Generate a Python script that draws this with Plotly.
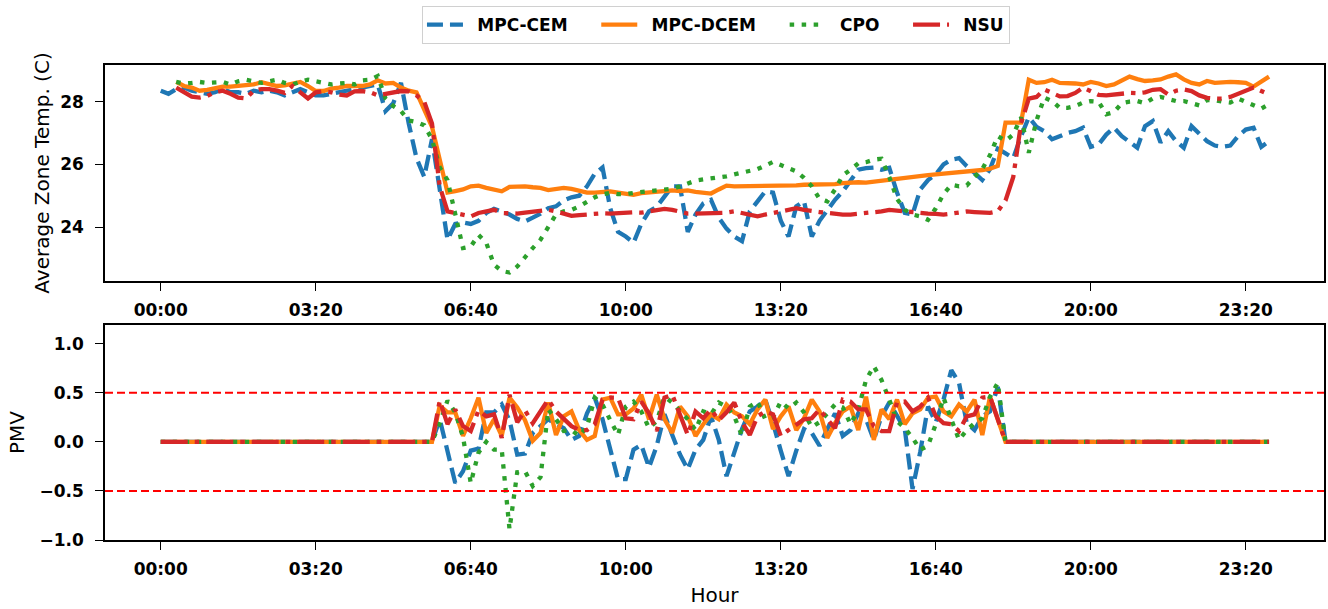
import plotly.graph_objects as go
from plotly.subplots import make_subplots

# time axis: 10-minute steps over one day (minutes after midnight)
minutes = [10 * i for i in range(144)]
tick_vals = [0, 200, 400, 600, 800, 1000, 1200, 1400]
tick_text = ["00:00", "03:20", "06:40", "10:00", "13:20", "16:40", "20:00", "23:20"]

N = None
temp_mpc_cem = [28.35, 28.25, 28.4, 28.45, 28.35, 28.3, 28.25, 28.3, 28.4, 28.3,
                28.3, 28.25, 28.35, 28.3, 28.35, 28.3, 28.2, 28.3, 28.4, 28.3,
                28.2, 28.2, 28.25, 28.3, 28.35, 28.4, 28.45, 28.5, 28.55, 27.7,
                27.95, 28.6, 27.3, 26.2, 25.6, 26.8, 25.1, 23.6, 24.1, 24.15,
                24.1, 24.2, 24.45, 24.58, 24.5, 24.4, 24.26, 24.18, 24.3, 24.43,
                24.6, 24.66, 24.85, 24.95, 25.0, 25.3, 25.7, 25.9, 24.6, 23.85,
                23.7, 23.5, 24.1, 24.5, 24.65, 24.98, 25.3, 25.3, 23.85, 24.4,
                24.75, 24.87, 24.3, 23.95, 23.7, 23.55, 24.5, 24.82, 25.14, 25.1,
                24.2, 23.7, 24.66, 24.82, 23.7, 24.2, 24.55, 24.87, 25.14, 25.5,
                25.83, 25.88, 25.9, 25.83, 25.89, 25.1, 24.45, 24.4, 25.2, 25.5,
                25.68, 26.0, 26.15, 26.2, 25.94, 25.73, 25.5, 25.85, 26.5, 26.35,
                26.2, 26.9, 27.5, 27.2, 27.06, 26.8, 26.9, 27.0, 27.06, 27.17,
                26.56, 26.63, 26.95, 27.17, 26.9, 26.7, 26.53, 27.22, 27.38, 26.7,
                27.06, 26.74, 26.53, 27.22, 27.0, 26.74, 26.6, 26.56, 26.6, 26.9,
                27.11, 27.17, 26.56, 26.74]
temp_mpc_dcem = [N, N, 28.63, 28.5, 28.45, 28.35, 28.38, 28.42, 28.48, 28.48,
                 28.5, 28.5, 28.55, 28.62, 28.55, 28.5, 28.52, 28.58, 28.63, 28.5,
                 28.34, 28.34, 28.42, 28.45, 28.5, 28.5, 28.5, 28.55, 28.68, 28.58,
                 28.6, 28.45, 28.35, 28.3, 27.75, 27.2, 26.15, 25.1, 25.15, 25.2,
                 25.3, 25.32, 25.25, 25.18, 25.14, 25.28, 25.3, 25.3, 25.27, 25.25,
                 25.18, 25.2, 25.25, 25.22, 25.15, 25.1, 25.1, 25.12, 25.14, 25.1,
                 25.05, 25.03, 25.08, 25.1, 25.15, 25.17, 25.17, 25.15, 25.17, 25.12,
                 25.08, 25.07, 25.2, 25.32, 25.3, 25.3, 25.3, 25.32, 25.3, 25.3,
                 25.3, 25.32, 25.33, 25.35, 25.35, 25.35, 25.36, 25.37, 25.4, 25.43,
                 25.43, 25.42, 25.45, 25.5, 25.52, 25.57, 25.6, 25.62, 25.64, 25.66,
                 25.68, 25.7, 25.75, 25.77, 25.78, 25.8, 25.82, 25.86, 25.95, 27.33,
                 27.33, 27.33, 28.7, 28.6, 28.62, 28.7, 28.6, 28.6, 28.58, 28.55,
                 28.63, 28.58, 28.5, 28.55, 28.66, 28.8, 28.72, 28.66, 28.68, 28.71,
                 28.8, 28.87, 28.71, 28.6, 28.55, 28.66, 28.6, 28.62, 28.63, 28.62,
                 28.6, 28.48, 28.66, 28.8]
temp_cpo = [N, N, 28.63, 28.58, 28.6, 28.63, 28.6, 28.62, 28.63, 28.55,
            28.65, 28.7, 28.65, 28.6, 28.65, 28.7, 28.6, 28.55, 28.63, 28.7,
            28.65, 28.6, 28.55, 28.58, 28.6, 28.55, 28.68, 28.7, 28.82, 28.1,
            27.86, 27.7, 27.4, 27.35, 27.25, 26.8, 25.9, 25.5, 24.4, 23.33,
            23.38, 23.75, 23.5, 22.8, 22.6, 22.55, 22.74, 23.06, 23.33, 23.6,
            24.0, 24.4, 24.5, 24.55, 24.66, 24.8, 24.95, 25.05, 25.09, 25.05,
            25.05, 25.09, 25.12, 25.15, 25.16, 25.18, 25.22, 25.3, 25.4, 25.48,
            25.52, 25.55, 25.58, 25.62, 25.68, 25.73, 25.77, 25.85, 25.96, 26.08,
            25.98, 25.88, 25.78, 25.57, 25.3, 24.9, 24.82, 25.2, 25.65, 25.83,
            26.03, 26.07, 26.15, 26.18, 25.6, 24.9, 24.55, 24.4, 24.34, 24.23,
            24.6, 25.05, 25.35, 25.3, 25.33, 25.6, 25.85, 26.3, 26.9, 26.75,
            26.95, 27.5, 26.37, 27.4, 28.13, 28.02, 27.8, 27.8, 27.86, 27.97,
            28.02, 28.0, 27.6, 27.67, 27.95, 28.0, 28.02, 27.95, 28.1, 28.15,
            28.1, 28.02, 28.02, 27.95, 27.88, 28.05, 28.05, 28.0, 27.97, 28.1,
            28.0, 27.9, 27.78, 27.92]
temp_nsu = [N, N, 28.45, 28.3, 28.16, 28.13, 28.18, 28.3, 28.35, 28.25,
            28.13, 28.1, 28.35, 28.4, 28.4, 28.35, 28.28, 28.5, 28.3, 28.1,
            28.3, 28.33, 28.3, 28.23, 28.2, 28.33, 28.34, 28.3, 28.2, 28.25,
            28.3, 28.34, 28.33, 28.2, 28.0, 27.3, 25.3, 24.5, 24.45, 24.4,
            24.34, 24.45, 24.5, 24.55, 24.45, 24.43, 24.43, 24.46, 24.5, 24.53,
            24.55, 24.5, 24.43, 24.36, 24.38, 24.4, 24.45, 24.44, 24.43, 24.45,
            24.47, 24.47, 24.46, 24.5, 24.55, 24.58, 24.55, 24.5, 24.43, 24.43,
            24.43, 24.43, 24.43, 24.46, 24.5, 24.45, 24.38, 24.34, 24.4, 24.45,
            24.5, 24.52, 24.6, 24.55, 24.5, 24.48, 24.45, 24.42, 24.4, 24.4,
            24.42, 24.43, 24.47, 24.5, 24.55, 24.52, 24.5, 24.48, 24.45, 24.43,
            24.42, 24.4, 24.43, 24.45, 24.5, 24.48, 24.47, 24.45, 24.5, 24.85,
            25.6, 27.3, 28.1, 28.15, 28.39, 28.29, 28.17, 28.18, 28.28, 28.45,
            28.32, 28.22, 28.2, 28.23, 28.28, 28.28, 28.27, 28.3, 28.38, 28.4,
            28.23, 28.35, 28.39, 28.34, 28.2, 28.12, 28.1, 28.1, 28.15, 28.25,
            28.37, 28.45, 28.34, 28.23]

Z36 = [0.0] * 36
Z35 = [0.0] * 35
pmv_mpc_cem = Z36 + [0.23, -0.1, -0.42, -0.3, -0.09, -0.07, 0.3, 0.3, 0.38, 0.22,
                     -0.13, -0.12, 0.09, 0.16, 0.23, 0.18, 0.14, 0.02, 0.06, 0.29,
                     0.45, 0.23, -0.08, -0.38, -0.38, -0.08, -0.03, -0.26, -0.04, 0.28,
                     0.07, -0.13, -0.28, -0.08, 0.02, 0.26, 0.02, -0.35, -0.11, 0.13,
                     0.31, 0.36, 0.43, 0.19, -0.09, -0.35, -0.09, 0.13, 0.09, -0.04,
                     0.13, 0.29, 0.06, 0.12, 0.29, 0.23, 0.02, 0.26, 0.4, 0.26,
                     0.13, -0.48, -0.1, 0.36, 0.2, 0.43, 0.73, 0.6, 0.19, 0.12,
                     0.26, 0.31, 0.56] + Z35
pmv_mpc_dcem = Z36 + [0.37, 0.3, 0.3, 0.06, 0.24, 0.45, 0.09, 0.23, 0.06, 0.45,
                      0.35, 0.22, 0.01, 0.09, 0.4, 0.07, 0.26, 0.31, 0.12, 0.02,
                      0.06, 0.43, 0.45, 0.28, 0.28, 0.34, 0.48, 0.23, 0.48, 0.23,
                      0.09, 0.36, 0.26, 0.06, 0.18, 0.28, 0.23, 0.38, 0.3, 0.26,
                      0.18, 0.33, 0.43, 0.13, 0.26, 0.36, 0.12, 0.24, 0.43, 0.31,
                      0.04, 0.19, 0.31, 0.36, 0.12, 0.46, 0.02, 0.33, 0.23, 0.43,
                      0.18, 0.29, 0.33, 0.45, 0.46, 0.31, 0.26, 0.38, 0.31, 0.43,
                      0.07, 0.46, 0.23] + Z35
pmv_cpo = Z36 + [0.19, 0.42, 0.3, 0.05, -0.42, -0.11, 0.0, -0.08, -0.08, -0.89,
                 -0.31, -0.3, -0.45, -0.36, 0.33, 0.23, 0.11, 0.12, 0.06, 0.15,
                 0.45, 0.38, 0.22, 0.07, 0.36, 0.41, 0.31, 0.14, 0.21, 0.46,
                 0.4, 0.31, 0.23, 0.12, 0.31, 0.28, 0.4, 0.36, 0.26, 0.06,
                 0.36, 0.41, 0.23, 0.25, 0.41, 0.34, 0.4, 0.3, 0.15, 0.2,
                 0.29, 0.38, 0.35, 0.18, 0.33, 0.63, 0.77, 0.63, 0.43, 0.21,
                 0.14, 0.04, -0.08, -0.04, 0.18, 0.45, 0.23, 0.02, 0.12, 0.19,
                 0.24, 0.46, 0.6] + Z35
pmv_nsu = Z36 + [0.42, 0.18, 0.33, 0.16, 0.11, 0.32, 0.26, 0.28, 0.04, 0.48,
                 0.2, 0.32, 0.19, 0.31, 0.43, 0.31, 0.24, 0.16, 0.12, 0.12,
                 0.18, 0.43, 0.45, 0.45, 0.24, 0.23, 0.41, 0.29, 0.11, 0.45,
                 0.48, 0.26, 0.07, 0.31, 0.24, 0.33, 0.22, 0.3, 0.4, 0.2,
                 0.07, 0.26, 0.31, 0.28, 0.06, 0.12, 0.18, 0.23, 0.24, 0.33,
                 0.23, 0.14, 0.43, 0.41, 0.33, 0.33, 0.16, 0.11, 0.11, 0.4,
                 0.41, 0.31, 0.36, 0.45, 0.26, 0.19, 0.18, 0.11, 0.26, 0.28,
                 0.45, 0.46, 0.23] + Z35

comfort_limits = [0.5, -0.5]

names = ["MPC-CEM", "MPC-DCEM", "CPO", "NSU"]
colors = ["#1f77b4", "#ff7f0e", "#2ca02c", "#d62728"]
dashes = ["16px,7px", "solid", "4.5px,7.5px", "27px,7px,4.5px,7px"]
temps = [temp_mpc_cem, temp_mpc_dcem, temp_cpo, temp_nsu]
pmvs = [pmv_mpc_cem, pmv_mpc_dcem, pmv_cpo, pmv_nsu]

LW = 4.3
# legend label padding (non-breaking spaces) to mimic matplotlib legend spacing
lead = "\u00a0\u2009"
trail = "\u00a0\u00a0\u00a0\u00a0"

fig = make_subplots(rows=2, cols=1, shared_xaxes=False, vertical_spacing=0.09)

for k in range(4):
    label = lead + names[k] + (trail if k < 3 else "")
    fig.add_trace(go.Scatter(x=minutes, y=temps[k], name=label, mode="lines",
                             line=dict(color=colors[k], width=LW, dash=dashes[k]),
                             legendgroup=names[k]), row=1, col=1)
for k in range(4):
    fig.add_trace(go.Scatter(x=minutes, y=pmvs[k], name=names[k], mode="lines",
                             line=dict(color=colors[k], width=LW, dash=dashes[k]),
                             legendgroup=names[k], showlegend=False), row=2, col=1)

for v in comfort_limits:
    fig.add_shape(type="line", xref="x2 domain", yref="y2", x0=0, x1=1, y0=v, y1=v,
                  line=dict(color="#ff0000", width=2, dash="8px,4px"))

tickfont = dict(family="DejaVu Sans", size=17, color="black", weight="bold")
titlefont = dict(family="DejaVu Sans", size=20, color="black")
axis_common = dict(showline=True, linecolor="black", linewidth=1.6, mirror=True,
                   ticks="outside", ticklen=8, tickwidth=1.4, tickcolor="black",
                   showgrid=False, zeroline=False, tickfont=tickfont, automargin=False)

fig.update_xaxes(range=[-71.9, 1500.9], tickvals=tick_vals, ticktext=tick_text,
                 ticklabelstandoff=5, **axis_common)
fig.update_xaxes(title=dict(text="Hour", font=titlefont, standoff=10), row=2, col=1)
fig.update_yaxes(range=[22.28, 29.17], tickvals=[24, 26, 28], ticklabelstandoff=8,
                 row=1, col=1, **axis_common)
fig.update_yaxes(range=[-1.0, 1.19], tickvals=[-1.0, -0.5, 0.0, 0.5, 1.0], tickformat=".1f",
                 ticklabelstandoff=8, row=2, col=1, **axis_common)
fig.update_yaxes(title=dict(text="Average Zone Temp. (C)", font=titlefont, standoff=5),
                 row=1, col=1)
fig.update_yaxes(title=dict(text="PMV", font=titlefont, standoff=9), row=2, col=1)

fig.update_layout(
    width=1328, height=609,
    margin=dict(l=105, r=4, t=65, b=69),
    plot_bgcolor="white", paper_bgcolor="white",
    font=dict(family="DejaVu Sans", color="black"),
    yaxis=dict(domain=[0.5453, 1.0]),
    yaxis2=dict(domain=[0.0, 0.4526]),
    legend=dict(orientation="h", x=0.5012, xanchor="center", y=0.99, yanchor="top",
                yref="container", xref="paper",
                font=dict(family="DejaVu Sans", size=17, color="black", weight="bold"),
                bordercolor="#d0d0d0", borderwidth=1, bgcolor="white",
                itemwidth=36, tracegroupgap=0),
)

fig.write_html("out.html")
